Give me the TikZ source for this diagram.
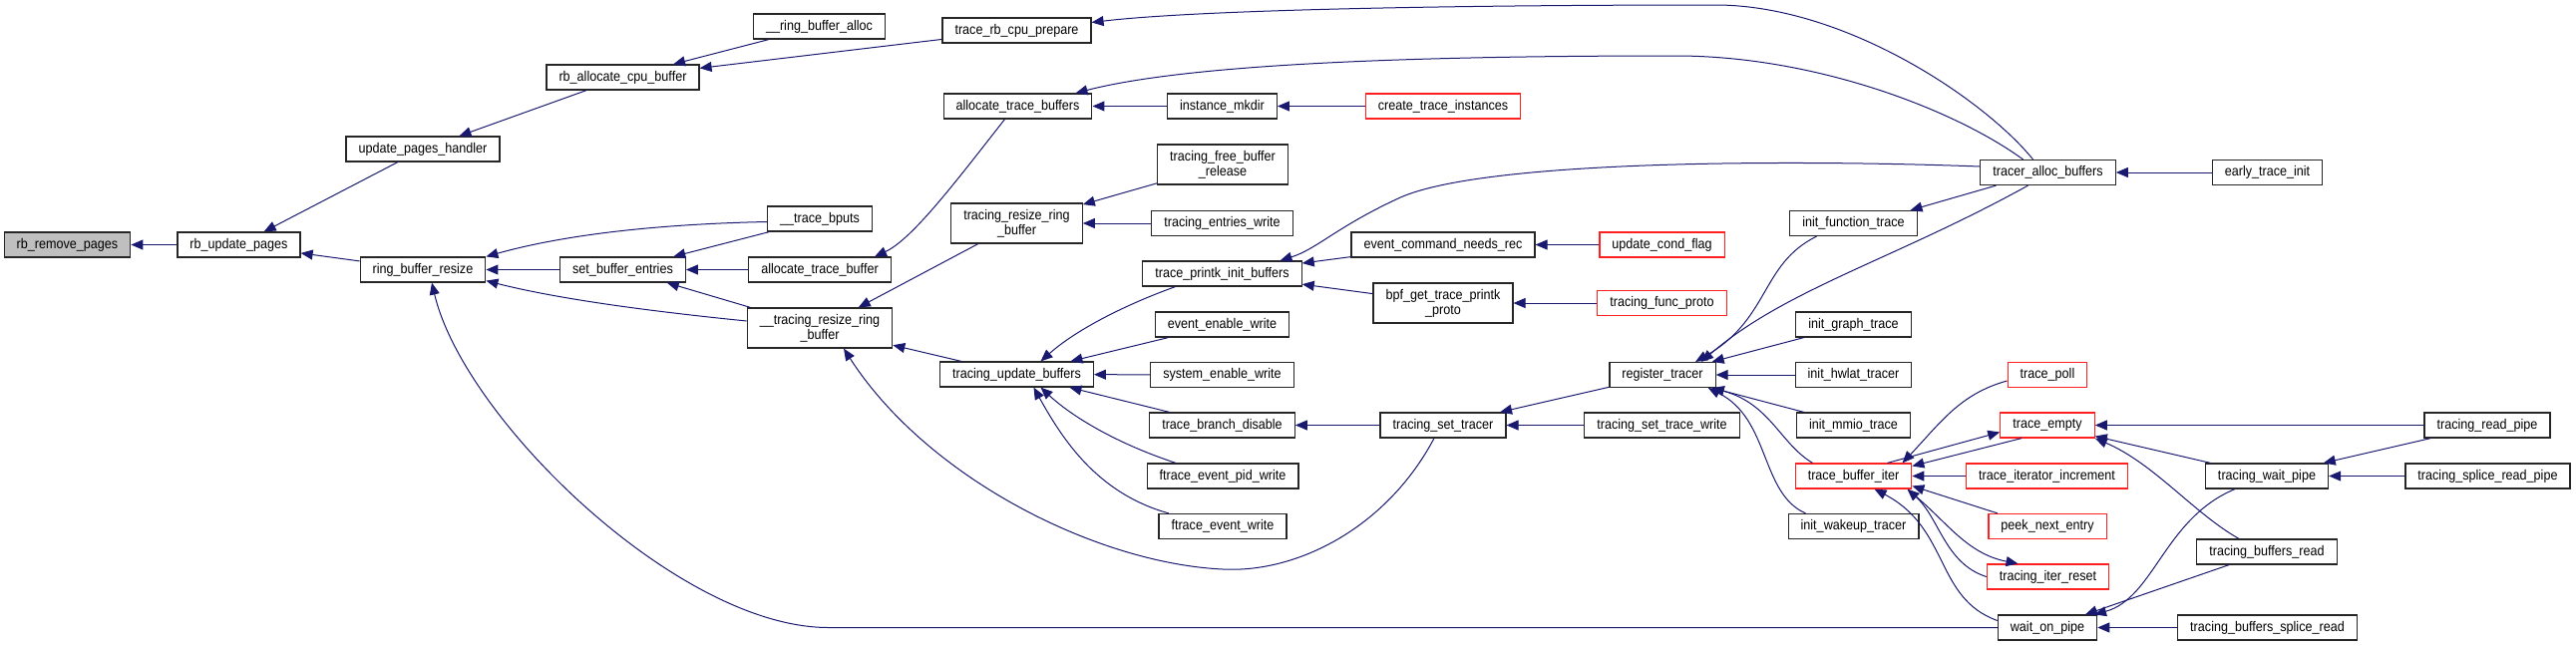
\documentclass[tikz,border=0pt]{standalone}
\usepackage{fontspec}
\setmainfont{Liberation Sans}[FakeStretch=0.9]
\usepackage{xcolor}
\usepackage{tikz}
\usetikzlibrary{arrows.meta}

\definecolor{edgeblue}{HTML}{191970}
\definecolor{stubred}{HTML}{FF2020}
\definecolor{rootgray}{HTML}{BFBFBF}

\begin{document}
\begin{tikzpicture}[
  x=1pt, y=-1pt,
  font=\fontsize{14}{15}\selectfont,
  fn/.style={draw=black!85, line width=1.2pt, fill=white, align=center, minimum height=25pt, inner xsep=12.5pt, inner ysep=1.5pt},
  root/.style={fn, fill=rootgray},
  stub/.style={fn, draw=stubred},
  tall/.style={fn, minimum height=40pt},
  arr/.style={draw=edgeblue, line width=1pt, -{Triangle[length=12pt,width=10pt]}}
]
\useasboundingbox (0,0) rectangle (2583,648);

% ---------- Columns 0-3 ----------
\node[root] (rmpages) at (67.5,245.5) {rb\_remove\_pages};
\node[fn] (updpages) at (239.5,245.5) {rb\_update\_pages};
\node[fn] (pghandler) at (424,149.5) {update\_pages\_handler};
\node[fn] (rbresize) at (424,270.5) {ring\_buffer\_resize};
\node[fn] (alloccpu) at (624.5,77.5) {rb\_allocate\_cpu\_buffer};
\node[fn] (setentries) at (624.5,270.5) {set\_buffer\_entries};

% ---------- Columns 4-5 ----------
\node[fn] (rballoc) at (821.5,26.5) {\_\_ring\_buffer\_alloc};
\node[fn] (bputs) at (822,219.5) {\_\_trace\_bputs};
\node[fn] (alloctb) at (822,270.5) {allocate\_trace\_buffer};
\node[tall] (uresize) at (822,329) {\_\_tracing\_resize\_ring\\\_buffer};
\node[fn] (cpuprep) at (1019.5,30.5) {trace\_rb\_cpu\_prepare};
\node[fn] (alloctbs) at (1020.5,106.5) {allocate\_trace\_buffers};
\node[tall] (tresize) at (1019.5,224) {tracing\_resize\_ring\\\_buffer};
\node[fn] (updbufs) at (1019.5,375.5) {tracing\_update\_buffers};

% ---------- Column 6 ----------
\node[fn] (mkdir) at (1225.5,106.5) {instance\_mkdir};
\node[tall] (freebuf) at (1226,165) {tracing\_free\_buffer\\\_release};
\node[fn] (entwrite) at (1225.5,224) {tracing\_entries\_write};
\node[fn] (printkinit) at (1225.5,274.5) {trace\_printk\_init\_buffers};
\node[fn] (evenable) at (1225.5,325.5) {event\_enable\_write};
\node[fn] (sysenable) at (1225.5,376) {system\_enable\_write};
\node[fn] (brdisable) at (1225.5,426.5) {trace\_branch\_disable};
\node[fn] (pidwrite) at (1226,477.5) {ftrace\_event\_pid\_write};
\node[fn] (evwrite) at (1226,528) {ftrace\_event\_write};

% ---------- Columns 7-8 ----------
\node[stub] (createinst) at (1447,106.5) {create\_trace\_instances};
\node[fn] (needsrec) at (1447,245.5) {event\_command\_needs\_rec};
\node[tall] (bpfproto) at (1447,304) {bpf\_get\_trace\_printk\\\_proto};
\node[fn] (settracer) at (1447,426.5) {tracing\_set\_tracer};
\node[stub] (condflag) at (1666.5,245.5) {update\_cond\_flag};
\node[stub] (funcproto) at (1666.5,304) {tracing\_func\_proto};
\node[fn] (regtracer) at (1667,376) {register\_tracer};
\node[fn] (setwrite) at (1666.5,426.5) {tracing\_set\_trace\_write};

% ---------- Column 9 ----------
\node[fn] (initfunc) at (1858.5,224) {init\_function\_trace};
\node[fn] (initgraph) at (1858.5,325.5) {init\_graph\_trace};
\node[fn] (inithwlat) at (1858.5,376) {init\_hwlat\_tracer};
\node[fn] (initmmio) at (1858.5,426.5) {init\_mmio\_trace};
\node[stub] (bufiter) at (1858.5,477.5) {trace\_buffer\_iter};
\node[fn] (initwakeup) at (1858.5,528) {init\_wakeup\_tracer};

% ---------- Column 10 ----------
\node[fn] (allocbufs) at (2053.5,173) {tracer\_alloc\_buffers};
\node[stub] (tpoll) at (2053,376) {trace\_poll};
\node[stub] (tempty) at (2053,426.5) {trace\_empty};
\node[stub] (iterinc) at (2052.5,477.5) {trace\_iterator\_increment};
\node[stub] (peeknext) at (2053,528) {peek\_next\_entry};
\node[stub] (iterreset) at (2053.5,578.5) {tracing\_iter\_reset};
\node[fn] (waitpipe) at (2053,629.5) {wait\_on\_pipe};

% ---------- Columns 11-12 ----------
\node[fn] (earlyinit) at (2273.5,173) {early\_trace\_init};
\node[fn] (twaitpipe) at (2273,477.5) {tracing\_wait\_pipe};
\node[fn] (bufsread) at (2273,553.5) {tracing\_buffers\_read};
\node[fn] (splread) at (2273.5,629.5) {tracing\_buffers\_splice\_read};
\node[fn] (readpipe) at (2494,426.5) {tracing\_read\_pipe};
\node[fn] (splpipe) at (2494.5,477.5) {tracing\_splice\_read\_pipe};

% ---------- Edges: left part ----------
\draw[arr] (updpages) -- (rmpages);
\draw[arr] (pghandler) -- (updpages);
\draw[arr] (rbresize) -- (updpages);
\draw[arr] (alloccpu) -- (pghandler);
\draw[arr] (rballoc) -- (alloccpu);
\draw[arr] (cpuprep) -- (alloccpu);
\draw[arr] (setentries) -- (rbresize);
\draw[arr] ([yshift=-3pt]bputs.west) .. controls (650,225) and (560,237) .. (rbresize.north east);
\draw[arr] ([yshift=7pt]uresize.west) .. controls (650,312) and (560,300) .. ([yshift=2pt]rbresize.south east);
\draw[arr] (waitpipe.west) -- (830,629.5) .. controls (680,629) and (465,420) .. ([xshift=9pt]rbresize.south);
\draw[arr] (alloctb) -- (setentries);
\draw[arr] (bputs) -- (setentries);
\draw[arr] (uresize) -- (setentries);

% ---------- Edges: middle part ----------
\draw[arr] ([xshift=-13pt]alloctbs.south) .. controls (960,180) and (915,240) .. ([xshift=55pt]alloctb.north);
\draw[arr] (tresize) -- (uresize);
\draw[arr] (updbufs) -- (uresize);
\draw[arr] ([xshift=-9pt]settracer.south) .. controls (1390,530) and (1300,575) .. (1226,571) .. controls (1100,565) and (930,480) .. ([xshift=24pt]uresize.south);
\draw[arr] (mkdir) -- (alloctbs);
\draw[arr] (createinst) -- (mkdir);
\draw[arr] (freebuf) -- (tresize);
\draw[arr] (entwrite) -- (tresize);
\draw[arr] ([xshift=-47pt]printkinit.south) .. controls (1130,305) and (1080,330) .. ([xshift=24pt]updbufs.north);
\draw[arr] (evenable) -- (updbufs);
\draw[arr] (sysenable) -- (updbufs);
\draw[arr] (brdisable) -- (updbufs);
\draw[arr] ([xshift=-47pt]pidwrite.north) .. controls (1120,445) and (1075,418) .. ([xshift=24pt]updbufs.south);
\draw[arr] ([xshift=-54pt]evwrite.north) .. controls (1100,495) and (1065,440) .. ([xshift=17pt]updbufs.south);
\draw[arr] (needsrec) -- (printkinit);
\draw[arr] (bpfproto) -- (printkinit);
\draw[arr] (condflag) -- (needsrec);
\draw[arr] (funcproto) -- (bpfproto);
\draw[arr] (settracer) -- (brdisable);
\draw[arr] (regtracer) -- (settracer);
\draw[arr] (setwrite) -- (settracer);

% ---------- Edges: tracer_alloc_buffers ----------
\draw[arr] (earlyinit) -- (allocbufs);
\draw[arr] ([xshift=-15pt]allocbufs.north) .. controls (1990,100) and (1850,5) .. (1720,5) .. controls (1450,5) and (1200,10) .. ([yshift=8pt]cpuprep.east);
\draw[arr] ([xshift=-25pt]allocbufs.north) .. controls (1960,110) and (1820,56) .. (1680,56) .. controls (1450,56) and (1200,62) .. ([xshift=58pt]alloctbs.north);
\draw[arr] ([yshift=6pt]allocbufs.west) .. controls (1800,160) and (1480,160) .. (1400,200) .. controls (1340,228) and (1320,250) .. ([xshift=58pt]printkinit.north);
\draw[arr] ([xshift=-52pt]allocbufs.south) -- ([xshift=57pt]initfunc.north);
\draw[arr] ([xshift=-20pt]allocbufs.south) .. controls (1900,260) and (1790,290) .. ([xshift=39pt]regtracer.north);

% ---------- Edges: register_tracer ----------
\draw[arr] ([xshift=-37pt]initfunc.south) .. controls (1765,265) and (1775,320) .. ([xshift=33pt]regtracer.north);
\draw[arr] (initgraph) -- (regtracer);
\draw[arr] (inithwlat) -- (regtracer);
\draw[arr] (initmmio) -- (regtracer);
\draw[arr] ([xshift=-41pt]bufiter.north) .. controls (1785,445) and (1775,405) .. ([xshift=-4pt]regtracer.south east);
\draw[arr] ([xshift=-48pt]initwakeup.north) .. controls (1765,495) and (1775,420) .. ([xshift=-8pt]regtracer.south east);

% ---------- Edges: trace_buffer_iter ----------
\draw[arr] ([yshift=-6pt]tpoll.west) .. controls (1965,395) and (1945,425) .. ([xshift=49pt]bufiter.north);
\draw[arr] ([xshift=34pt]bufiter.north) -- ([yshift=-7pt]tempty.west);
\draw[arr] ([xshift=-26pt]tempty.south) -- ([yshift=10pt]bufiter.east);
\draw[arr] (iterinc) -- (bufiter);
\draw[arr] ([xshift=-50pt]peeknext.north) -- ([yshift=-10pt]bufiter.east);
\draw[arr] ([xshift=-4pt,yshift=-1pt]bufiter.south east) .. controls (1950,520) and (1970,555) .. ([xshift=-30pt]iterreset.north);
\draw[arr] (iterreset.west) .. controls (1950,565) and (1945,520) .. ([xshift=54pt]bufiter.south);
\draw[arr] ([yshift=7pt]waitpipe.west) .. controls (1940,600) and (1955,530) .. ([xshift=21pt]bufiter.south);

% ---------- Edges: pipes ----------
\draw[arr] (readpipe) -- (tempty);
\draw[arr] (twaitpipe) -- (tempty);
\draw[arr] ([xshift=-28pt]bufsread.north) .. controls (2200,515) and (2160,465) .. (tempty.south east);
\draw[arr] (readpipe) -- (twaitpipe);
\draw[arr] (splpipe) -- (twaitpipe);
\draw[arr] ([xshift=-32pt]twaitpipe.south) .. controls (2170,520) and (2160,600) .. ([xshift=47pt]waitpipe.north);
\draw[arr] (bufsread) -- (waitpipe);
\draw[arr] (splread) -- (waitpipe);

\end{tikzpicture}
\end{document}
